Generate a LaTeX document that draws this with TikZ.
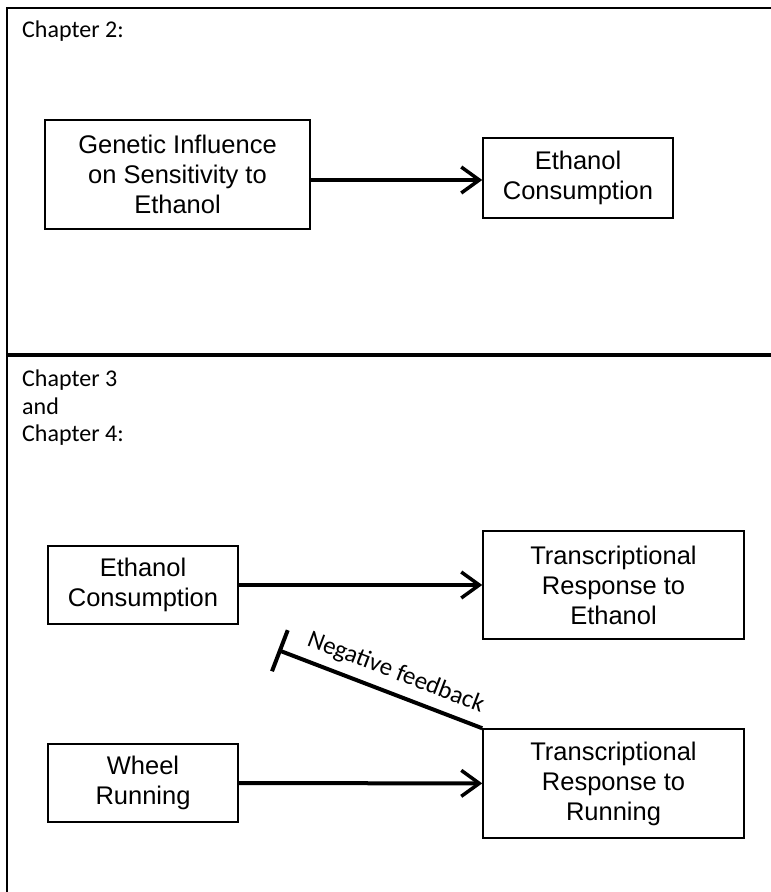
\documentclass[tikz,border=0pt]{standalone}
\usepackage{fontspec}
\newfontfamily\boxfont{Liberation Sans}
\newfontfamily\calfont{Carlito}
\usetikzlibrary{arrows.meta,calc}
\begin{document}
\begin{tikzpicture}[x=1pt,y=-1pt,
  box/.style={draw, line width=1.5pt, inner sep=0pt, align=center, font=\boxfont\fontsize{25.5}{30}\selectfont},
  arr/.style={line width=4pt, -{Straight Barb[length=18pt,width=26pt,line width=3.5pt]}},
  lab/.style={font=\calfont\fontsize{24}{27.5}\selectfont, inner sep=0pt},
  fb/.style={font=\calfont\fontsize{25}{28}\selectfont, inner sep=0pt},
  frame/.style={line width=2pt},
  divider/.style={line width=4pt},
  inhib/.style={line width=4pt, {Bar[width=44pt]}-},
]
\useasboundingbox (0,0) rectangle (771,892);
% frame
\draw[frame] (7,892) -- (7,8) -- (771,8);
\draw[divider] (7,355) -- (771,355);
% labels
\node[lab, anchor=base west] (c2) at (22,37) {Chapter 2:};
\node[lab, anchor=north west, align=left] (c34) at (22,370) {Chapter 3\\and\\Chapter 4:};
% chapter 2
\node[box, minimum width=265pt, minimum height=109pt] (gen) at (177.5,174.5) {Genetic Influence\\on Sensitivity to\\Ethanol};
\node[box, minimum width=190pt, minimum height=80pt] (ec1) at (578,178) {Ethanol\\Consumption};
\draw[arr] (gen.east |- 0,180) -- (ec1.west |- 0,180);
% chapter 3/4
\node[box, minimum width=190pt, minimum height=78pt] (ec2) at (143,585) {Ethanol\\Consumption};
\node[box, minimum width=261pt, minimum height=108pt] (tre) at (613.5,585) {Transcriptional\\Response to\\Ethanol};
\node[box, minimum width=190pt, minimum height=78pt] (wr) at (143,783) {Wheel\\Running};
\node[box, minimum width=261pt, minimum height=109pt] (trr) at (613.5,783.5) {Transcriptional\\Response to\\Running};
\draw[arr] (ec2) -- (tre);
\draw[arr] (wr) -- (trr);
\coordinate (nf) at (278,650);
\draw[inhib] (nf) -- (trr.north west) node[pos=0.54, sloped, above=8pt, fb] {Negative feedback};
\end{tikzpicture}
\end{document}
